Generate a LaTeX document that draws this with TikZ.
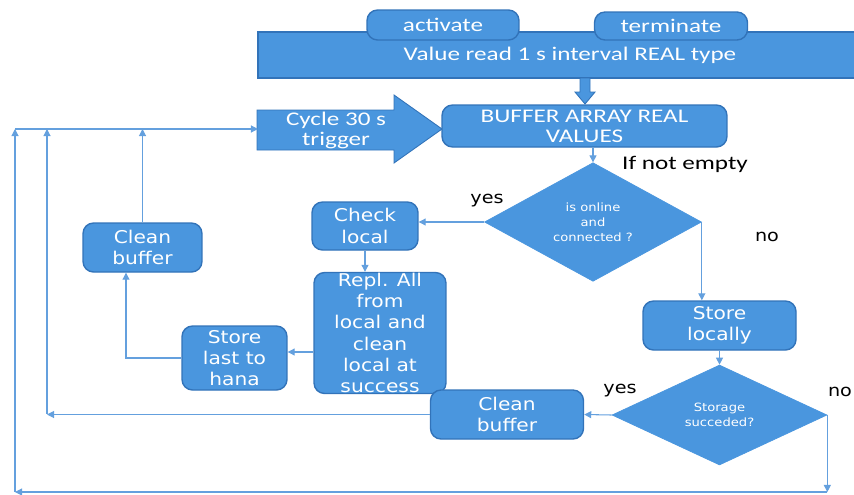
\documentclass[tikz,border=0pt]{standalone}
\usepackage{fontspec}
\usepackage{xcolor}
\usetikzlibrary{shapes.geometric,arrows.meta}
\newfontfamily\calfont[FakeStretch=1.3]{Carlito}
\newfontfamily\verfont[FakeStretch=1.15]{DejaVu Sans}
\definecolor{boxblue}{RGB}{74,150,222}
\definecolor{edgeblue}{RGB}{50,115,185}
\definecolor{lineblue}{RGB}{100,160,222}

\tikzset{
  flow/.style={draw=lineblue, line width=0.6pt, -{Triangle[length=4pt,width=4pt]}},
  block/.style={rectangle, rounded corners=6pt, fill=boxblue, draw=edgeblue, line width=0.8pt,
    text=white, align=center, inner sep=0pt, font=\verfont\fontsize{10}{12.1}\selectfont},
  calblock/.style={block, font=\calfont\fontsize{11}{11.4}\selectfont},
  decision/.style={diamond, fill=boxblue, draw=boxblue, text=white, align=center, inner sep=0pt,
    font=\verfont\fontsize{6.5}{8.5}\selectfont},
  lbl/.style={text=black, font=\verfont\fontsize{9.5}{11}\selectfont}
}

\begin{document}
\begin{tikzpicture}[x=0.02cm, y=-0.02cm]
  \useasboundingbox (0,0) rectangle (854,494);

  \node (bar) [calblock, rounded corners=0pt, minimum width=12.48cm, minimum height=0.92cm] at (570,55) {Value read 1 s interval REAL type};
  \node (act) [calblock, minimum width=3.04cm, minimum height=0.6cm] at (443,25) {activate};
  \node (term) [calblock, minimum width=3.06cm, minimum height=0.56cm] at (671,26) {terminate};

  % block arrows
  \filldraw[fill=boxblue, draw=edgeblue, line width=0.5pt] (580,78) -- (590,78) -- (590,92) -- (595,92) -- (585,104) -- (575,92) -- (580,92) -- cycle;
  \filldraw[fill=boxblue, draw=edgeblue, line width=0.5pt] (257,110) -- (394,110) -- (394,95) -- (442,129) -- (394,163) -- (394,150) -- (257,150) -- cycle;
  \node (cyc) [text=white, align=center, font=\calfont\fontsize{11}{11.4}\selectfont] at (336,130) {Cycle 30 s\\trigger};

  \node (buf) [calblock, minimum width=5.7cm, minimum height=0.84cm] at (584.5,126) {BUFFER ARRAY REAL\\VALUES};

  \node (d1) [decision, minimum width=4.34cm, minimum height=1.94cm] at (593,222) {is online\\and\\connected ?};
  \node (check) [block, minimum width=2.12cm, minimum height=0.96cm] at (365,226) {Check\\local};
  \node (repl) [block, minimum width=2.64cm, minimum height=2.42cm] at (380,333) {Repl. All\\from\\local and\\clean\\local at\\success};
  \node (storelast) [block, minimum width=2.1cm, minimum height=1.28cm] at (234.5,358) {Store\\last to\\hana};
  \node (cleanL) [block, minimum width=2.38cm, minimum height=0.98cm] at (142.5,247.5) {Clean\\buffer};
  \node (storeloc) [block, minimum width=3.06cm, minimum height=0.98cm] at (719.5,325.5) {Store\\locally};
  \node (d2) [decision, minimum width=4.3cm, minimum height=2cm] at (719.5,415) {Storage\\succeded?};
  \node (cleanR) [block, minimum width=3.06cm, minimum height=0.98cm] at (507,414.5) {Clean\\buffer};

  \node (ifne) [text=black, font=\calfont\fontsize{11}{12}\selectfont] at (685,164) {If not empty};
  \node (yes1) [lbl] at (487,201) {yes};
  \node (no1) [lbl] at (767,237) {no};
  \node (yes2) [lbl] at (620,391) {yes};
  \node (no2) [lbl] at (840,392) {no};

  \coordinate (c1) at (15,129);
  \coordinate (cin) at (258,129);
  \coordinate (b1) at (15,492);
  \coordinate (b2) at (47,414);
  \coordinate (rw) at ([yshift=-0.38cm]repl.west);

  \draw[flow] (c1) -- (cin);
  \draw[flow] (d1.north |- buf.south) -- (d1.north);
  \draw[flow] (d1.west) -- (d1.west -| check.east);
  \draw[flow] (d1.east) -- (d1.east |- storeloc.north);
  \draw[flow] (check.south) -- (check.south |- repl.north);
  \draw[flow] (rw) -- (rw -| storelast.east);
  \draw[flow] (storelast.west) -| ([xshift=-0.33cm]cleanL.south);
  \draw[flow] (cleanL.north) -- (cleanL.north |- c1);
  \draw[flow] (storeloc.south) -- (d2.north);
  \draw[flow] (d2.west) -- (cleanR.east);
  \draw[flow] (cleanR.west) -- (cleanR.west -| b2);
  \draw[flow] (b2) -- (b2 |- c1);
  \draw[flow] (d2.east) -- (d2.east |- b1);
  \draw[flow] (d2.east |- b1) -- (b1);
  \draw[flow] (b1) -- (c1);
\end{tikzpicture}
\end{document}
